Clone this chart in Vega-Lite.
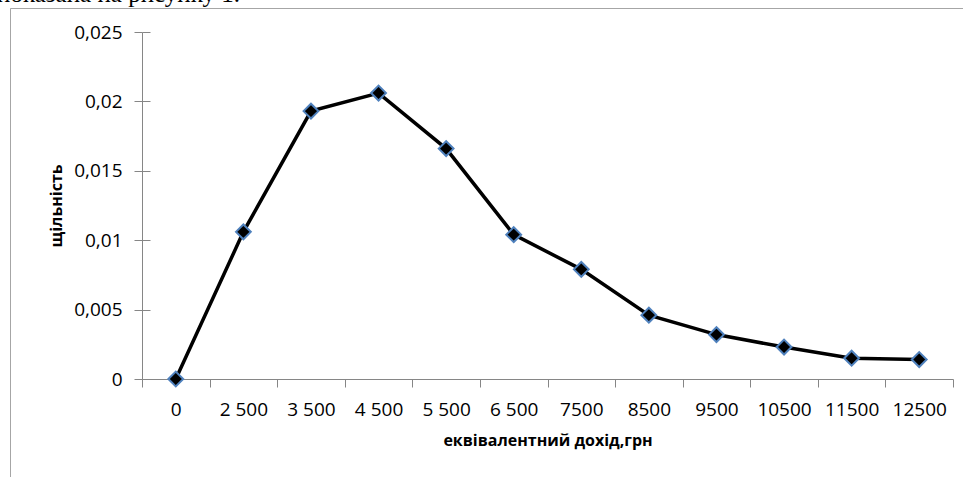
{
  "$schema": "https://vega.github.io/schema/vega-lite/v6.json",
  "width": 953,
  "height": 469,
  "autosize": {"type": "none"},
  "padding": {"left": 10, "top": 8, "right": 0, "bottom": 0},
  "background": "white",
  "title": {
    "text": "показана на рисунку 1.",
    "anchor": "start",
    "frame": "group",
    "font": "Liberation Serif",
    "fontSize": 25,
    "fontWeight": "normal",
    "color": "black",
    "baseline": "alphabetic",
    "offset": 0,
    "dx": -13,
    "dy": 19
  },
  "config": {
    "view": {"stroke": "#a6a6a6", "strokeWidth": 1, "strokeDash": [953, 1422, 469]},
    "axis": {
      "grid": false,
      "domainColor": "#868686",
      "tickColor": "#868686",
      "labelColor": "black",
      "titleColor": "black",
      "labelFont": "Open Sans",
      "labelFontSize": 19,
      "titleFont": "Open Sans",
      "titleFontSize": 16,
      "titleFontWeight": "bold"
    }
  },
  "data": {
    "values": [
      {"income": "0", "density": 0},
      {"income": "2 500", "density": 0.0106},
      {"income": "3 500", "density": 0.0193},
      {"income": "4 500", "density": 0.0206},
      {"income": "5 500", "density": 0.0166},
      {"income": "6 500", "density": 0.0104},
      {"income": "7500", "density": 0.0079},
      {"income": "8500", "density": 0.0046},
      {"income": "9500", "density": 0.0032},
      {"income": "10500", "density": 0.0023},
      {"income": "11500", "density": 0.0015},
      {"income": "12500", "density": 0.0014}
    ]
  },
  "encoding": {
    "x": {
      "field": "income",
      "type": "nominal",
      "sort": null,
      "scale": {"type": "band", "range": [132, 943], "paddingInner": 0, "paddingOuter": 0},
      "axis": {
        "orient": "bottom",
        "offset": -98,
        "tickBand": "extent",
        "tickSize": 8,
        "labelAngle": 0,
        "labelFontSize": 19,
        "labelBaseline": "alphabetic",
        "labelPadding": 28,
        "title": "еквівалентний дохід,грн",
        "titleBaseline": "alphabetic",
        "titleY": 66
      }
    }
  },
  "layer": [
    {
      "mark": {"type": "line", "color": "black", "strokeWidth": 3.5},
      "encoding": {
        "y": {
          "field": "density",
          "type": "quantitative",
          "scale": {"domain": [0, 0.025], "range": [371, 24], "nice": false},
          "axis": {
            "orient": "left",
            "offset": -132,
            "values": [0, 0.005, 0.01, 0.015, 0.02, 0.025],
            "labelExpr": "replace(toString(datum.value), '.', ',')",
            "labelFontSize": 19,
            "tickSize": 8,
            "labelPadding": 12,
            "title": "щільність",
            "titleAngle": 270,
            "titleAlign": "center",
            "titleBaseline": "alphabetic",
            "titleX": -81,
            "titleY": 197.5
          }
        }
      }
    },
    {
      "mark": {"type": "point", "shape": "diamond", "filled": true, "fill": "black", "stroke": "#4F81BD", "strokeWidth": 2, "size": 220, "opacity": 1},
      "encoding": {
        "y": {
          "field": "density",
          "type": "quantitative",
          "scale": {"domain": [0, 0.025], "range": [371, 24], "nice": false},
          "axis": {
            "orient": "left",
            "offset": -132,
            "values": [0, 0.005, 0.01, 0.015, 0.02, 0.025],
            "tickSize": -8,
            "labels": false,
            "domain": false,
            "title": null
          }
        }
      }
    }
  ],
  "resolve": {"axis": {"y": "independent"}}
}
